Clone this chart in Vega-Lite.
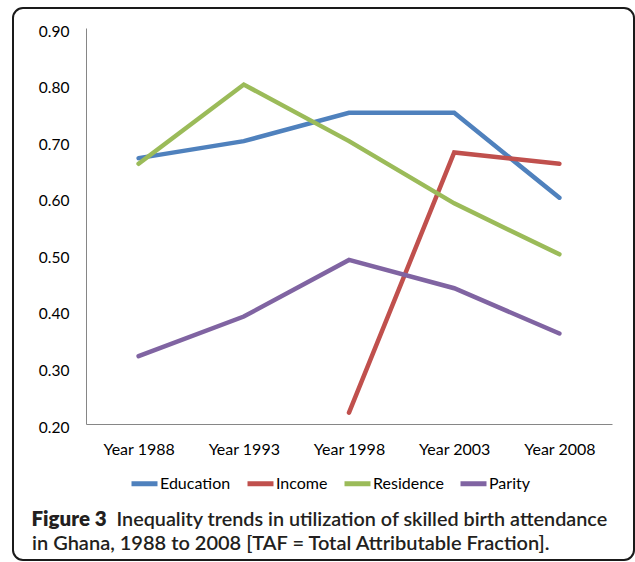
{
  "$schema": "https://vega.github.io/schema/vega-lite/v6.json",
  "width": 621,
  "height": 552,
  "autosize": {"type": "none"},
  "padding": {"left": 13, "top": 8, "right": 1, "bottom": 2},
  "background": "white",
  "title": {
    "text": "in Ghana, 1988 to 2008 [TAF = Total Attributable Fraction].",
    "orient": "bottom",
    "anchor": "start",
    "frame": "group",
    "offset": -10,
    "dx": 19,
    "baseline": "alphabetic",
    "font": "Lato",
    "fontSize": 20,
    "fontWeight": 600,
    "color": "#231f20"
  },
  "data": {
    "values": [
      {"year": "Year 1988", "series": "Education", "value": 0.67},
      {"year": "Year 1993", "series": "Education", "value": 0.70},
      {"year": "Year 1998", "series": "Education", "value": 0.75},
      {"year": "Year 2003", "series": "Education", "value": 0.75},
      {"year": "Year 2008", "series": "Education", "value": 0.60},
      {"year": "Year 1998", "series": "Income", "value": 0.22},
      {"year": "Year 2003", "series": "Income", "value": 0.68},
      {"year": "Year 2008", "series": "Income", "value": 0.66},
      {"year": "Year 1988", "series": "Residence", "value": 0.66},
      {"year": "Year 1993", "series": "Residence", "value": 0.80},
      {"year": "Year 1998", "series": "Residence", "value": 0.70},
      {"year": "Year 2003", "series": "Residence", "value": 0.59},
      {"year": "Year 2008", "series": "Residence", "value": 0.50},
      {"year": "Year 1988", "series": "Parity", "value": 0.32},
      {"year": "Year 1993", "series": "Parity", "value": 0.39},
      {"year": "Year 1998", "series": "Parity", "value": 0.49},
      {"year": "Year 2003", "series": "Parity", "value": 0.44},
      {"year": "Year 2008", "series": "Parity", "value": 0.36}
    ]
  },
  "mark": {"type": "line", "strokeWidth": 4.5, "strokeCap": "round"},
  "encoding": {
    "x": {
      "field": "year",
      "type": "ordinal",
      "sort": ["Year 1988", "Year 1993", "Year 1998", "Year 2003", "Year 2008"],
      "scale": {"type": "point", "range": [73, 599], "padding": 0.5},
      "axis": {
        "title": "Figure 3",
        "offset": -136,
        "ticks": false,
        "tickSize": 0,
        "grid": false,
        "domainColor": "#868686",
        "domainWidth": 1,
        "labelAngle": 0,
        "labelPadding": 25,
        "labelBaseline": "middle",
        "labelFont": "Lato",
        "labelFontSize": 16,
        "labelColor": "#000000",
        "titleX": 18,
        "titleY": 101,
        "titleAlign": "left",
        "titleBaseline": "alphabetic",
        "titleFont": "Lato",
        "titleFontSize": 20.5,
        "titleFontWeight": 800,
        "titleColor": "#231f20"
      }
    },
    "y": {
      "field": "value",
      "type": "quantitative",
      "scale": {"domain": [0.2, 0.9], "range": [416, 20], "zero": false, "nice": false},
      "axis": {
        "values": [0.2, 0.3, 0.4, 0.5, 0.6, 0.7, 0.8, 0.9],
        "format": ".2f",
        "offset": -73,
        "ticks": false,
        "tickSize": 0,
        "grid": false,
        "domainColor": "#868686",
        "domainWidth": 1,
        "labelPadding": 17,
        "labelOffset": 3,
        "labelFont": "Lato",
        "labelFontSize": 15.5,
        "labelColor": "#000000",
        "title": "Inequality trends in utilization of skilled birth attendance",
        "titleAngle": 0,
        "titleX": 30,
        "titleY": 517,
        "titleAlign": "left",
        "titleBaseline": "alphabetic",
        "titleFont": "Lato",
        "titleFontSize": 19.8,
        "titleFontWeight": 600,
        "titleColor": "#231f20"
      }
    },
    "color": {
      "field": "series",
      "type": "nominal",
      "scale": {
        "domain": ["Education", "Income", "Residence", "Parity"],
        "range": ["#4F81BD", "#C0504D", "#9BBB59", "#8064A2"]
      },
      "legend": {
        "orient": "none",
        "legendX": 116,
        "legendY": 460,
        "direction": "horizontal",
        "title": null,
        "symbolType": "stroke",
        "symbolSize": 676,
        "symbolStrokeWidth": 5,
        "labelFont": "Lato",
        "labelFontSize": 16,
        "labelColor": "#000000",
        "labelOffset": 0,
        "columnPadding": 6,
        "padding": 0
      }
    }
  },
  "config": {
    "view": {"stroke": "#1a1a1a", "strokeWidth": 2, "cornerRadius": 10}
  }
}
